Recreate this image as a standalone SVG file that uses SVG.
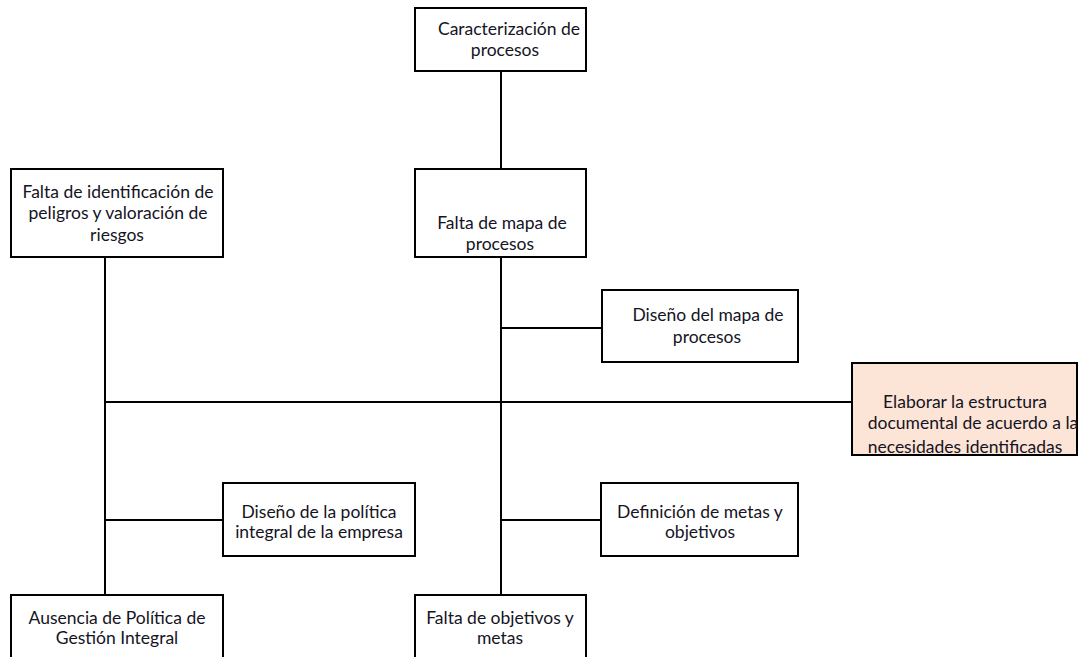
<svg xmlns="http://www.w3.org/2000/svg" width="1082" height="657" viewBox="0 0 1082 657">
<style>
.box{fill:#ffffff;stroke:#000;stroke-width:2}
.hl{fill:#fce4d6}
.ln{stroke:#000;stroke-width:2;fill:none}
text{font-family:Lato,"Liberation Sans",sans-serif;font-size:17.5px;fill:#141424;text-anchor:middle}
</style>
<rect width="1082" height="657" fill="#fff"/>
<g id="connectors">
<line class="ln" x1="501" y1="71" x2="501" y2="595"/>
<line class="ln" x1="105" y1="257" x2="105" y2="595"/>
<line class="ln" x1="105" y1="402" x2="852" y2="402"/>
<line class="ln" x1="501" y1="328" x2="602" y2="328"/>
<line class="ln" x1="105" y1="520" x2="223" y2="520"/>
<line class="ln" x1="501" y1="520" x2="601" y2="520"/>
</g>
<g id="n1"><rect class="box" x="415" y="8" width="171" height="63"/><text x="509" y="35">Caracterización de</text><text x="505" y="56">procesos</text></g>
<g id="n2"><rect class="box" x="415" y="169" width="171" height="88"/><text x="502" y="229">Falta de mapa de</text><text x="500" y="250">procesos</text></g>
<g id="n3"><rect class="box" x="11" y="169" width="212" height="88"/><text x="118" y="198">Falta de identificación de</text><text x="118" y="219">peligros y valoración de</text><text x="117" y="241">riesgos</text></g>
<g id="n4"><rect class="box" x="602" y="290" width="196" height="72"/><text x="708" y="321">Diseño del mapa de</text><text x="707" y="343">procesos</text></g>
<g id="n5"><rect class="box hl" x="852" y="363" width="225" height="92"/><text x="965" y="408">Elaborar la estructura</text><text x="973" y="429">documental de acuerdo a la</text><text x="965" y="453">necesidades identificadas</text></g>
<g id="n6"><rect class="box" x="223" y="483" width="192" height="73"/><text x="319" y="518">Diseño de la política</text><text x="319" y="538">integral de la empresa</text></g>
<g id="n7"><rect class="box" x="601" y="483" width="197" height="73"/><text x="700" y="518">Definición de metas y</text><text x="700" y="538">objetivos</text></g>
<g id="n8"><rect class="box" x="11" y="595" width="212" height="70"/><text x="117" y="624">Ausencia de Política de</text><text x="117" y="644">Gestión Integral</text></g>
<g id="n9"><rect class="box" x="415" y="595" width="171" height="70"/><text x="500" y="624">Falta de objetivos y</text><text x="500" y="644">metas</text></g>
</svg>
